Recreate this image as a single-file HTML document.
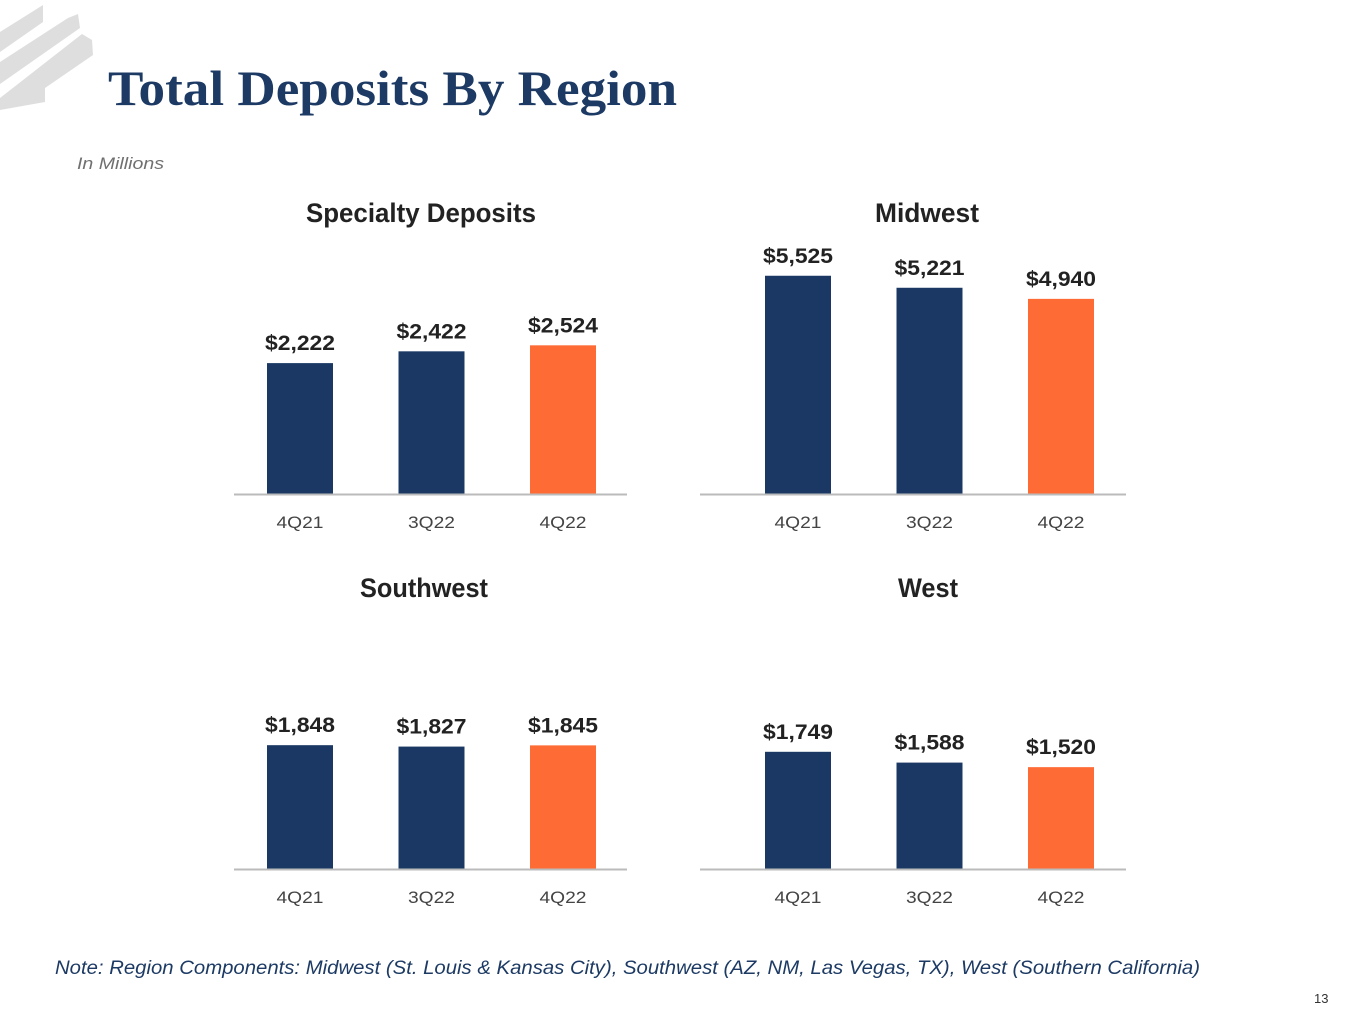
<!DOCTYPE html>
<html><head><meta charset="utf-8"><style>
body{margin:0;width:1365px;height:1024px;background:#fff;position:relative;overflow:hidden;font-family:"Liberation Sans",sans-serif}
.t{position:absolute}
</style></head><body>
<svg class="t" style="left:0;top:0" width="100" height="110">
<polygon points="0,32 43,5 43,22 0,52" fill="#dedede"/>
<polygon points="0,62 68,18 78,14 80,28 0,84" fill="#dedede"/>
<polygon points="0,98 82,34 92,40 93,55 45,88 45,102 0,110" fill="#dedede"/>
</svg>
<svg class="t" style="left:0;top:0" width="1365" height="1024">
<text x="108" y="105" textLength="569" lengthAdjust="spacingAndGlyphs" font-family="Liberation Serif, serif" font-weight="bold" font-size="50" fill="#1c3a64">Total Deposits By Region</text>
<text x="77" y="169" textLength="87" lengthAdjust="spacingAndGlyphs" font-style="italic" font-size="17" fill="#707070">In Millions</text>
<text x="55" y="974" textLength="1145" lengthAdjust="spacingAndGlyphs" font-style="italic" font-size="19" fill="#1c3a64">Note: Region Components: Midwest (St. Louis &amp; Kansas City), Southwest (AZ, NM, Las Vegas, TX), West (Southern California)</text>
<text x="1314" y="1003" font-size="13" fill="#333">13</text>
</svg>
<svg id="c" class="t" style="left:0;top:0" width="1365" height="1024"></svg>
<script>
const categories=["4Q21","3Q22","4Q22"];
const titles=["Specialty Deposits","Midwest","Southwest","West"];
const specialty=[2222,2422,2524];
const midwest=[5525,5221,4940];
const southwest=[1848,1827,1845];
const west=[1749,1588,1520];
const yMaxes=[4244,6329,3731,3731];
const series=[specialty,midwest,southwest,west];
const NS="http://www.w3.org/2000/svg";
const svg=document.getElementById('c');
const titleW=[230,104,128,60];
const panels=[{x0:234,x1:627,base:494,ty:212,first:300,tc:421},{x0:700,x1:1126,base:494,ty:212,first:798,tc:927},{x0:234,x1:627,base:869,ty:587,first:300,tc:424},{x0:700,x1:1126,base:869,ty:587,first:798,tc:928}];
function mk(t,a,txt){const e=document.createElementNS(NS,t);for(const k in a)e.setAttribute(k,a[k]);if(txt!==undefined)e.textContent=txt;svg.appendChild(e);return e;}
series.forEach((vals,p)=>{
  const P=panels[p];const H=250;
  const y=v=>P.base-v/yMaxes[p]*H;
  const step=131.5;
  const x=i=>P.first+i*step;
  let t=mk('text',{x:P.tc,y:P.ty+10,'text-anchor':'middle','font-size':'27','font-weight':'bold',fill:'#222',textLength:titleW[p],lengthAdjust:'spacingAndGlyphs'},titles[p]);
  
  vals.forEach((v,i)=>{
    let r=mk('rect',{x:x(i)-33,y:y(v),width:66,height:P.base-y(v),fill:i==2?'#ff6b35':'#1a3863'});
    
    
    let l=mk('text',{x:x(i),y:y(v)-13,'text-anchor':'middle','font-size':'21','font-weight':'bold',fill:'#222',textLength:70,lengthAdjust:'spacingAndGlyphs'},'$'+v.toLocaleString('en-US'));
    
    
    let c=mk('text',{x:x(i),y:P.base+34,'text-anchor':'middle','font-size':'17',fill:'#444',textLength:47,lengthAdjust:'spacingAndGlyphs'},categories[i]);
    
    
  });
  let a=mk('line',{x1:P.x0,x2:P.x1,y1:P.base+0.5,y2:P.base+0.5,stroke:'#bbb','stroke-width':2});
  
  
});
</script>
</body></html>
